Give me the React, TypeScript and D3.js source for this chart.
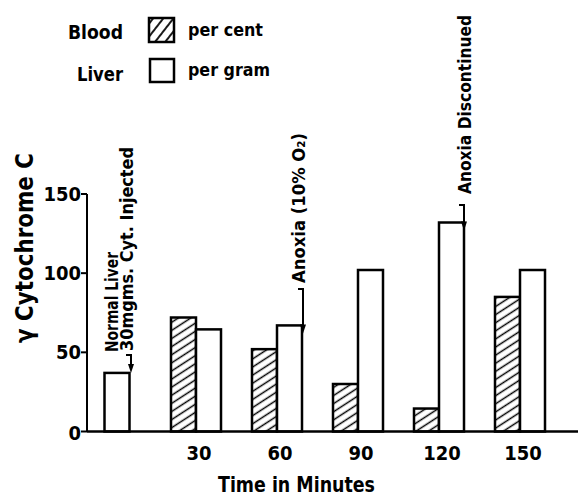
import React from "react";
import * as d3 from "d3";

const times = [0, 30, 60, 90, 120, 150];
const bloodPerCent: (number | null)[] = [null, 72, 52, 30, 14.5, 85];
const liverPerGram = [37, 64.5, 67, 102, 132, 102];
const yTicks = [0, 50, 100, 150];
const xTickLabels = [30, 60, 90, 120, 150];

const W = 578;
const H = 497;
const FONT = "'DejaVu Sans Condensed', 'DejaVu Sans', sans-serif";

type TProps = {
  x: number;
  y: number;
  text: string;
  size: number;
  len?: number;
  rot?: boolean;
  anchor?: "start" | "middle" | "end";
};

function T({ x, y, text, size, len, rot, anchor = "start" }: TProps) {
  return (
    <text
      x={0}
      y={0}
      transform={`translate(${x},${y})${rot ? " rotate(-90)" : ""}`}
      fontFamily={FONT}
      fontWeight="bold"
      fontSize={size}
      textAnchor={anchor}
      textLength={len}
      lengthAdjust={len ? "spacingAndGlyphs" : undefined}
      fill="#000"
    >
      {text}
    </text>
  );
}

function Arrow({ x, y1, y2, stubX }: { x: number; y1: number; y2: number; stubX: number }) {
  return (
    <g>
      <path d={`M${stubX},${y1} H${x} V${y2 - 4}`} fill="none" stroke="#000" strokeWidth={2} />
      <path d={`M${x - 3},${y2 - 9} L${x + 3},${y2 - 9} L${x},${y2} Z`} fill="#000" />
    </g>
  );
}

export default function App() {
  const x = d3.scaleLinear().domain([0, 150]).range([115, 520]);
  const y = d3.scaleLinear().domain([0, 150]).range([431.5, 194]);
  const bw = 25;
  const axisX = 87;

  return (
    <svg
      width={W}
      height={H}
      style={{ position: "absolute", left: 0, top: 0, background: "#fff" }}
    >
      <defs>
        <pattern
          id="hatch"
          patternUnits="userSpaceOnUse"
          width={10}
          height={6.8}
          patternTransform="rotate(-33)"
        >
          <line x1={0} y1={3.4} x2={10} y2={3.4} stroke="#000" strokeWidth={1.5} />
        </pattern>
        <pattern
          id="hatchLegend"
          patternUnits="userSpaceOnUse"
          width={10}
          height={8}
          patternTransform="rotate(-52)"
        >
          <line x1={0} y1={4} x2={10} y2={4} stroke="#000" strokeWidth={1.8} />
        </pattern>
      </defs>
      <rect width={W} height={H} fill="#fff" />

      {/* Legend */}
      <T x={68} y={39} text="Blood" size={19} len={55} />
      <rect x={149} y={18} width={25} height={24} fill="url(#hatchLegend)" stroke="#000" strokeWidth={2.5} />
      <T x={188} y={36} text="per cent" size={18} len={75} />
      <T x={77} y={81} text="Liver" size={19} len={46} />
      <rect x={150} y={59} width={24} height={23} fill="#fff" stroke="#000" strokeWidth={2.5} />
      <T x={188} y={76} text="per gram" size={18} len={82} />

      {/* Bars */}
      {times.map((t, i) => {
        const b = bloodPerCent[i];
        const l = liverPerGram[i];
        const lx = b == null ? x(t) - bw / 2 + 2 : x(t);
        return (
          <g key={t}>
            {b != null && (
              <rect
                x={x(t) - bw}
                y={y(b)}
                width={bw}
                height={y(0) - y(b)}
                fill="url(#hatch)"
                stroke="#000"
                strokeWidth={2.5}
              />
            )}
            <rect
              x={lx}
              y={y(l)}
              width={bw}
              height={y(0) - y(l)}
              fill="#fff"
              stroke="#000"
              strokeWidth={2.5}
            />
          </g>
        );
      })}

      {/* Axes */}
      <line x1={axisX} y1={y(150)} x2={axisX} y2={y(0)} stroke="#000" strokeWidth={2} />
      <line x1={axisX} y1={y(0)} x2={W} y2={y(0)} stroke="#000" strokeWidth={2.5} />
      {yTicks.map((v) => (
        <g key={v}>
          <line x1={axisX - 6} y1={y(v)} x2={axisX} y2={y(v)} stroke="#000" strokeWidth={2} />
          <T x={81} y={y(v) + 7 + (v === 0 ? 1.5 : 0)} text={String(v)} size={20} anchor="end" />
        </g>
      ))}
      {xTickLabels.map((t) => (
        <T key={t} x={x(t) + 3} y={460} text={String(t)} size={20} anchor="middle" />
      ))}

      <T x={218} y={492} text="Time in Minutes" size={21} len={157} />
      <T x={33} y={343} text="γ Cytochrome C" size={25} len={190} rot />

      {/* Annotations */}
      <T x={118} y={352} text="Normal Liver" size={18} len={100} rot />
      <T x={133} y={351} text="30mgms. Cyt. Injected" size={18} len={204} rot />
      <Arrow stubX={126} x={131} y1={355} y2={y(liverPerGram[0])} />

      <T x={305} y={283} text="Anoxia (10% O₂)" size={18} len={150} rot />
      <Arrow stubX={298} x={303} y1={289} y2={y(liverPerGram[2]) + 8} />

      <T x={471} y={194} text="Anoxia Discontinued" size={17.5} len={179} rot />
      <Arrow stubX={459} x={464} y1={205} y2={y(liverPerGram[4]) + 8} />
    </svg>
  );
}
